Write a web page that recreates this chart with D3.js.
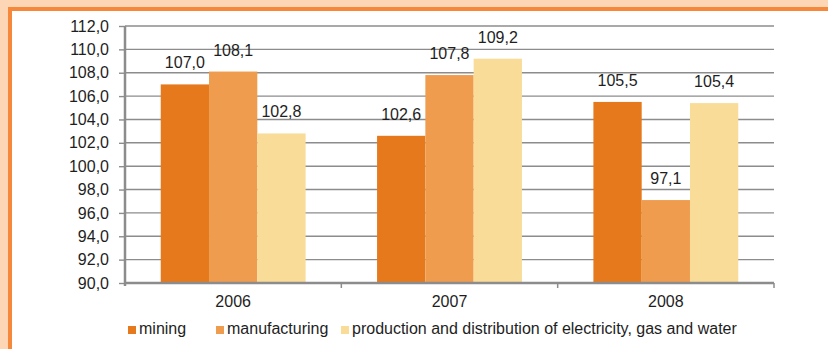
<!DOCTYPE html>
<html>
<head>
<meta charset="utf-8">
<script src="https://cdn.jsdelivr.net/npm/d3@7"></script>
<style>
  body { margin: 0; padding: 0; background: #fdd6b6; }
  svg { display: block; }
</style>
</head>
<body>
<div id="chart"></div>
<script>

var years = ["2006", "2007", "2008"];
var seriesNames = ["mining", "manufacturing", "production and distribution of electricity, gas and water"];
var mining = [107.0, 102.6, 105.5];
var manufacturing = [108.1, 107.8, 97.1];
var electricity = [102.8, 109.2, 105.4];
var yTicks = [90, 92, 94, 96, 98, 100, 102, 104, 106, 108, 110, 112];

var colors = ["#e6791b", "#ef9c4e", "#f8dc98"];

function init(){

    var w = 828;
    var h = 349;

    var svg = d3.select("#chart")
                .append("svg")
                .attr("width", w)
                .attr("height", h);

    // frame: peach background, orange border, white panel
    svg.append("rect").attr("x", 0).attr("y", 0).attr("width", w).attr("height", h).attr("fill", "#fdd6b6");
    svg.append("rect").attr("x", 8).attr("y", 7).attr("width", w - 8).attr("height", h - 7).attr("fill", "#f5883a");
    svg.append("rect").attr("x", 12).attr("y", 11).attr("width", w - 12).attr("height", h - 11).attr("fill", "#ffffff");

    var left = 125, right = 774, top = 26, bottom = 283;
    var font = "'Liberation Sans', Arial, sans-serif";
    var fs = "16px";

    var y = d3.scaleLinear().domain([90, 112]).range([bottom, top]);
    var x0 = d3.scaleBand().domain(years).range([left, right]).padding(0);
    var x1 = d3.scaleBand().domain(seriesNames).range([0, x0.bandwidth()])
               .paddingInner(0).paddingOuter(0.74);

    var data = years.map(function(yr, i) {
        return [
            { year: yr, name: seriesNames[0], value: mining[i], c: colors[0] },
            { year: yr, name: seriesNames[1], value: manufacturing[i], c: colors[1] },
            { year: yr, name: seriesNames[2], value: electricity[i], c: colors[2] }
        ];
    });

    // gridlines
    svg.append("g")
        .selectAll("line")
        .data(yTicks.slice(1))
        .enter()
        .append("line")
        .attr("x1", left)
        .attr("x2", right)
        .attr("y1", function(d) { return y(d); })
        .attr("y2", function(d) { return y(d); })
        .attr("stroke", "#8c8c8c")
        .attr("stroke-width", 1.4);

    // bars
    var groups = svg.append("g")
        .selectAll("g")
        .data(data)
        .enter()
        .append("g")
        .attr("transform", function(d, i) { return "translate(" + x0(years[i]) + ",0)"; });

    groups.selectAll("rect")
        .data(function(d) { return d; })
        .enter()
        .append("rect")
        .attr("x", function(d) { return x1(d.name); })
        .attr("y", function(d) { return y(d.value); })
        .attr("width", x1.bandwidth())
        .attr("height", function(d) { return bottom - y(d.value); })
        .attr("fill", function(d) { return d.c; });

    // value labels
    groups.selectAll("text")
        .data(function(d) { return d; })
        .enter()
        .append("text")
        .text(function(d) { return d.value.toFixed(1).replace(".", ","); })
        .attr("x", function(d) { return x1(d.name) + x1.bandwidth() / 2; })
        .attr("y", function(d) { return y(d.value) - 16; })
        .attr("font-family", font)
        .attr("font-size", fs)
        .attr("fill", "#1e1e1e")
        .attr("text-anchor", "middle");

    // y axis
    var yAxis = d3.axisLeft(y).tickValues(yTicks).tickSize(6).tickPadding(10)
        .tickFormat(function(d) { return d.toFixed(1).replace(".", ","); });
    var gy = svg.append("g").attr("transform", "translate(" + left + ",0)").call(yAxis);
    gy.select(".domain").attr("stroke", "#8c8c8c").attr("stroke-width", 2.5)
        .attr("d", "M0," + (bottom + 3) + "V" + top);
    gy.selectAll(".tick line").attr("stroke", "#8c8c8c").attr("stroke-width", 1.4);
    gy.selectAll(".tick text").attr("font-family", font).attr("font-size", fs).attr("fill", "#1e1e1e");

    // x axis
    var xAxis = d3.axisBottom(x0).tickSize(0).tickPadding(13);
    var gx = svg.append("g").attr("transform", "translate(0," + bottom + ")").call(xAxis);
    gx.select(".domain").attr("stroke", "#8c8c8c").attr("stroke-width", 2.5)
        .attr("d", "M" + left + ",0H" + right);
    gx.selectAll(".tick text").attr("font-family", font).attr("font-size", fs).attr("fill", "#1e1e1e");

    // category separator ticks
    svg.append("g")
        .selectAll("line")
        .data(years)
        .enter()
        .append("line")
        .attr("x1", function(d) { return x0(d) + x0.bandwidth(); })
        .attr("x2", function(d) { return x0(d) + x0.bandwidth(); })
        .attr("y1", bottom)
        .attr("y2", bottom + 5)
        .attr("stroke", "#8c8c8c")
        .attr("stroke-width", 1.5);

    // legend
    var legendX = [128, 216, 341];
    var legend = svg.append("g")
        .selectAll("g")
        .data(seriesNames)
        .enter()
        .append("g")
        .attr("transform", function(d, i) { return "translate(" + legendX[i] + ",326)"; });

    legend.append("rect")
        .attr("width", 8)
        .attr("height", 8)
        .attr("fill", function(d, i) { return colors[i]; });

    legend.append("text")
        .text(function(d) { return d; })
        .attr("x", 11)
        .attr("y", 8)
        .attr("font-family", font)
        .attr("font-size", fs)
        .attr("fill", "#1e1e1e");
}

window.onload = init;
</script>
</body>
</html>
